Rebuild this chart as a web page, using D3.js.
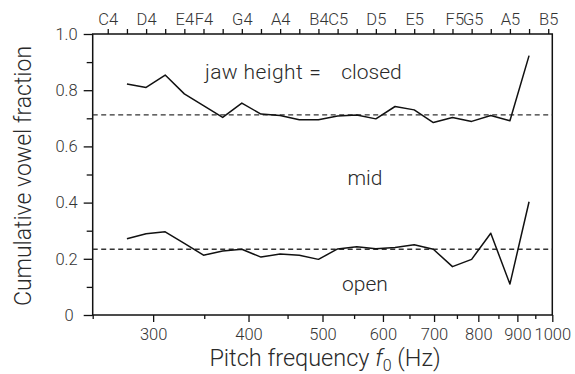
<!DOCTYPE html>
<html><head><meta charset="utf-8">
<script src="https://cdn.jsdelivr.net/npm/d3@7"></script>
<style>
html,body{margin:0;padding:0;background:#fff;}
text{font-family:Roboto,"Liberation Sans",Arial,sans-serif;font-weight:300;fill:#2a2a2a;}
</style></head>
<body>
<svg id="chart" width="575" height="374"></svg>
<script>
// Data
const pitchHz = [277.2, 293.7, 311.1, 329.6, 349.2, 370.0, 392.0, 415.3, 440.0, 466.2, 493.9,
                 523.3, 554.4, 587.3, 622.3, 659.3, 698.5, 740.0, 784.0, 830.6, 880.0, 932.3];
const closedFrac = [0.822, 0.810, 0.854, 0.787, 0.745, 0.703, 0.754, 0.715, 0.710, 0.695, 0.695,
                    0.708, 0.712, 0.698, 0.742, 0.730, 0.685, 0.703, 0.689, 0.710, 0.691, 0.923];
const openFrac = [0.271, 0.289, 0.296, 0.255, 0.213, 0.228, 0.234, 0.206, 0.217, 0.213, 0.198,
                  0.235, 0.243, 0.236, 0.240, 0.250, 0.234, 0.172, 0.198, 0.291, 0.110, 0.403];
const closedMean = 0.712;
const openMean = 0.234;

const noteFreqs = [261.6, 277.2, 293.7, 311.1, 329.6, 349.2, 370.0, 392.0, 415.3, 440.0, 466.2, 493.9,
                   523.3, 554.4, 587.3, 622.3, 659.3, 698.5, 740.0, 784.0, 830.6, 880.0, 932.3, 987.8];
const noteLabels = ["C4", "", "D4", "", "E4", "F4", "", "G4", "", "A4", "", "B4",
                    "C5", "", "D5", "", "E5", "F5", "", "G5", "", "A5", "", "B5"];
const xMajorTicks = [300, 400, 500, 600, 700, 800, 900, 1000];
const xMinorTicks = [250, 350, 450, 550, 650, 750, 850, 950];
const yMajorTicks = [0, 0.2, 0.4, 0.6, 0.8, 1.0];
const yMinorTicks = [0.1, 0.3, 0.5, 0.7, 0.9];
const regionLabels = ["closed", "mid", "open"];

const svg = d3.select("#chart");
const L = 92.7, R = 552.3, T = 34, B = 315;
const x = d3.scaleLog().domain([250, 1000]).range([L, R]);
const y = d3.scaleLinear().domain([0, 1]).range([B, T]);

// Bottom axis
const gB = svg.append("g").attr("transform", `translate(0,${B})`);
gB.call(d3.axisBottom(x).tickValues(xMajorTicks).tickFormat(d3.format("d")).tickSize(7).tickPadding(6));
gB.append("g").call(d3.axisBottom(x).tickValues(xMinorTicks).tickFormat("").tickSize(4));
// Top axis (notes)
const gT = svg.append("g").attr("transform", `translate(0,${T})`);
gT.call(d3.axisTop(x).tickValues(noteFreqs).tickFormat((d, i) => noteLabels[i]).tickSize(5).tickPadding(4));
// Left axis
const gL = svg.append("g").attr("transform", `translate(${L},0)`);
gL.call(d3.axisLeft(y).tickValues(yMajorTicks).tickFormat(d => d === 0 ? "0" : d3.format(".1f")(d)).tickSize(9).tickPadding(6));
gL.append("g").call(d3.axisLeft(y).tickValues(yMinorTicks).tickFormat("").tickSize(6));

svg.selectAll(".domain").remove();
svg.selectAll(".tick line").attr("stroke", "#111").attr("stroke-width", 1.3);
svg.selectAll(".tick text").attr("font-size", 16.5).style("fill", "#333");
gL.selectAll(".tick text").filter(d => d === 0).attr("dx", -4);
// the reference places the F5 label slightly right of its tick
gT.selectAll(".tick text").filter((d, i) => noteLabels[i] === "F5").attr("dx", 21);
gT.selectAll(".tick text").filter((d, i) => noteLabels[i] === "G5").attr("dx", 1);

// Frame
svg.append("rect").attr("x", L).attr("y", T).attr("width", R - L).attr("height", B - T)
  .attr("fill", "none").attr("stroke", "#111").attr("stroke-width", 1.5);

// Mean dashed lines
[closedMean, openMean].forEach(m => {
  svg.append("line").attr("x1", L).attr("x2", R).attr("y1", y(m)).attr("y2", y(m))
    .attr("stroke", "#333").attr("stroke-width", 1.3).attr("stroke-dasharray", "5,3.5");
});

// Series lines
const line = d3.line().x((d, i) => x(pitchHz[i])).y(d => y(d));
[closedFrac, openFrac].forEach(s => {
  svg.append("path").datum(s).attr("d", line).attr("fill", "none")
    .attr("stroke", "#111").attr("stroke-width", 1.5).attr("stroke-linejoin", "round");
});

// Region labels
const fsR = 21;
svg.append("text").attr("x", 205).attr("y", 79).attr("font-size", fsR).attr("letter-spacing", 0.4).text("jaw height");
svg.append("text").attr("x", 315).attr("y", 79).attr("font-size", fsR).attr("text-anchor", "middle").text("=");
svg.append("text").attr("x", 371.5).attr("y", 79).attr("font-size", fsR).attr("text-anchor", "middle").text(regionLabels[0]);
svg.append("text").attr("x", 365).attr("y", 185).attr("font-size", fsR).attr("text-anchor", "middle").text(regionLabels[1]);
svg.append("text").attr("x", 365).attr("y", 291).attr("font-size", fsR).attr("text-anchor", "middle").text(regionLabels[2]);

// Axis titles
const xt = svg.append("text").attr("x", 325).attr("y", 366).attr("font-size", 23.5).attr("text-anchor", "middle");
xt.append("tspan").text("Pitch frequency ");
xt.append("tspan").attr("font-style", "italic").text("f");
xt.append("tspan").attr("font-size", 16).attr("dy", 5).text("0");
xt.append("tspan").attr("dy", -5).text(" (Hz)");

svg.append("text").attr("transform", `translate(31,176) rotate(-90)`).attr("font-size", 23)
  .attr("text-anchor", "middle").text("Cumulative vowel fraction");
</script>
</body></html>
